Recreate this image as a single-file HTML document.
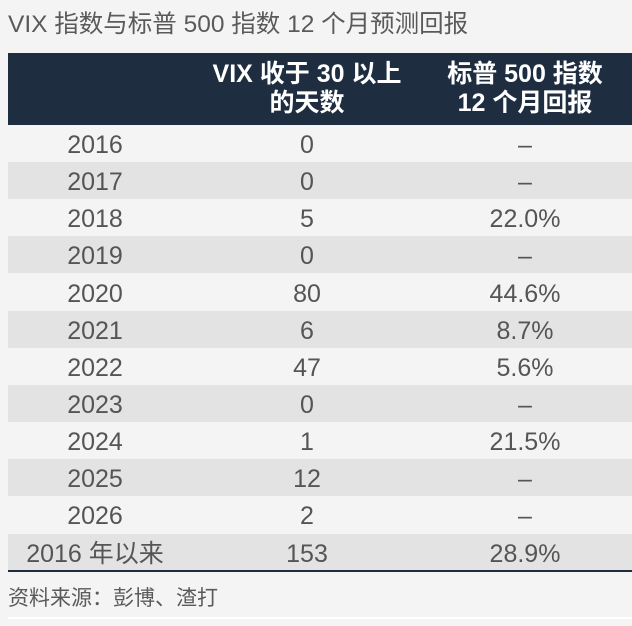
<!DOCTYPE html>
<html><head><meta charset="utf-8"><style>
body{margin:0;width:632px;height:626px;background:#f4f4f4;font-family:"Liberation Sans","Noto Sans CJK SC",sans-serif;position:relative;overflow:hidden}
.t{position:absolute;left:8px;top:5px;font-size:24.5px;color:#5a5a5a;white-space:nowrap}
.h{position:absolute;left:8px;top:53px;width:624px;height:72px;background:#1f2d40;color:#fff;font-weight:bold;font-size:25px;line-height:29px}
.h div{position:absolute;top:7px;text-align:center;white-space:nowrap}
.r{position:absolute;left:8px;width:624px;height:37px;font-size:25px;color:#555;line-height:37px}
.g{background:#e3e3e3}
.r span{position:absolute;top:2px;text-align:center;white-space:nowrap}
.a{left:0;width:174px}.b{left:199px;width:200px}.c{left:417px;width:200px}
.line{position:absolute;left:8px;top:570px;width:624px;height:2px;background:#1f2d40}
.s{position:absolute;left:8px;top:582px;font-size:21px;color:#5a5a5a}
.w{position:absolute;left:8px;top:617px;width:624px;height:2px;background:#fff}
</style></head><body>
<div class="t">VIX 指数与标普 500 指数 12 个月预测回报</div>
<div class="h"><div style="left:199px;width:200px">VIX 收于 30 以上<br>的天数</div><div style="left:417px;width:200px">标普 500 指数<br>12 个月回报</div></div>
<div class="r" style="top:125px"><span class="a">2016</span><span class="b">0</span><span class="c">–</span></div>
<div class="r g" style="top:162px"><span class="a">2017</span><span class="b">0</span><span class="c">–</span></div>
<div class="r" style="top:199px"><span class="a">2018</span><span class="b">5</span><span class="c">22.0%</span></div>
<div class="r g" style="top:236px"><span class="a">2019</span><span class="b">0</span><span class="c">–</span></div>
<div class="r" style="top:274px"><span class="a">2020</span><span class="b">80</span><span class="c">44.6%</span></div>
<div class="r g" style="top:311px"><span class="a">2021</span><span class="b">6</span><span class="c">8.7%</span></div>
<div class="r" style="top:348px"><span class="a">2022</span><span class="b">47</span><span class="c">5.6%</span></div>
<div class="r g" style="top:385px"><span class="a">2023</span><span class="b">0</span><span class="c">–</span></div>
<div class="r" style="top:422px"><span class="a">2024</span><span class="b">1</span><span class="c">21.5%</span></div>
<div class="r g" style="top:459px"><span class="a">2025</span><span class="b">12</span><span class="c">–</span></div>
<div class="r" style="top:496px"><span class="a">2026</span><span class="b">2</span><span class="c">–</span></div>
<div class="r g" style="top:534px;height:36px;line-height:36px"><span class="a">2016 年以来</span><span class="b">153</span><span class="c">28.9%</span></div>
<div class="line"></div>
<div class="s">资料来源：彭博、渣打</div>
<div class="w"></div>
</body></html>
